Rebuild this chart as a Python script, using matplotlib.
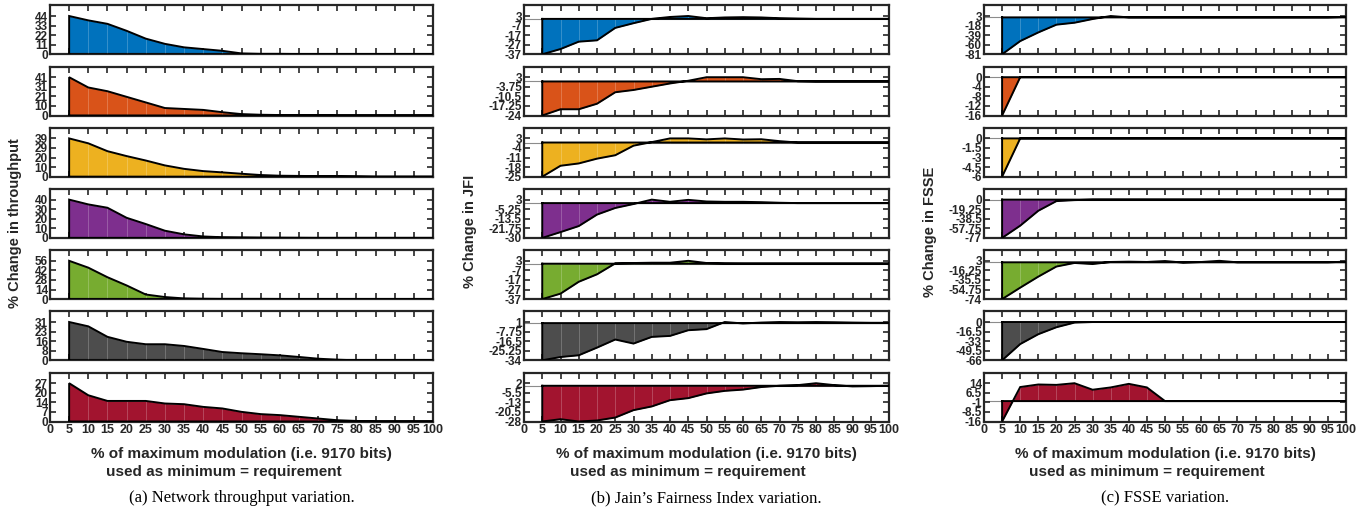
import numpy as np
import matplotlib
matplotlib.use("Agg")
import matplotlib.pyplot as plt

plt.rcParams['font.family'] = ['Liberation Sans', 'DejaVu Sans']

x_vals = list(range(5, 101, 5))
x_ticks = list(range(0, 101, 5))

colors = ['#0072BD', '#D95319', '#EDB120', '#7E2F8E', '#77AC30', '#4D4D4D', '#A2142F']

# (a) % change in throughput
thr_blue   = [44, 39, 35, 27, 18, 12, 8, 6, 4, 1, 0.5, 0.5, 0.3, 0.3, 0, 0, 0, 0, 0, 0]
thr_orange = [41, 30, 26, 20, 14, 8, 7, 6, 3.5, 1.5, 0.8, 0.5, 0.3, 0.2, 0, 0, 0, 0, 0, 0]
thr_yellow = [39, 34, 26, 21, 16.5, 11.5, 8, 5.7, 4.4, 3, 1.7, 1, 0.8, 0.6, 0.5, 0.3, 0, 0, 0, 0]
thr_purple = [40, 35, 31.5, 21, 14.5, 7.5, 3.7, 1.5, 0.7, 0.5, 0.3, 0.2, 0.1, 0, 0, 0, 0, 0, 0, 0]
thr_green  = [56, 46, 32, 20, 6.7, 3, 1, 0.5, 0.3, 0.3, 0.3, 0.2, 0.1, 0, 0, 0, 0, 0, 0, 0]
thr_gray   = [31, 27.5, 19, 15, 13, 13, 11.6, 9.2, 6.7, 5.7, 4.9, 4, 2.7, 1.3, 0.5, 0, 0, 0, 0, 0]
thr_red    = [27, 18.5, 14.5, 14.5, 14.5, 12.7, 12.2, 10.3, 9.2, 6.8, 5.2, 4.5, 3.3, 2.1, 0.9, 0.4, 0, 0, 0, 0]

# (b) % change in JFI
jfi_blue   = [-37, -31.5, -23.8, -22.4, -9.4, -4.5, 0, 2, 3, 0.7, 1.5, 1.8, 1.5, 0.7, 0.3, 0, 0, 0, 0, 0]
jfi_orange = [-24, -19.6, -19.6, -15.7, -7.6, -6, -3.7, -1.4, 0.5, 3, 3, 3, 1.6, 1.8, 0.2, 0, 0, 0, 0, 0]
jfi_yellow = [-25, -17, -15.3, -11.8, -9.3, -2.3, 0.3, 3, 3, 2.3, 3, 2.2, 2.4, 1, 0, 0, 0, 0, 0, 0]
jfi_purple = [-30, -25, -19.8, -9.9, -4.2, -0.8, 3, 1.1, 2.8, 1.4, 1.1, 1.1, 0.8, 0.3, 0, 0, 0, 0, 0, 0]
jfi_green  = [-37, -31.3, -18.9, -11.1, 0.3, 0.7, 1, 1, 3, 0.7, 0.3, 0.2, 0.2, 0.2, 0.2, 0.2, 0.2, 0.2, 0.2, 0.2]
jfi_gray   = [-34, -31, -29.4, -22.4, -15, -18.7, -12.6, -11.7, -6.5, -5.5, 1, -0.3, 0.5, 1, 0.8, 1, 0.8, 0.5, 0.3, 0.3]
jfi_red    = [-28, -26.2, -28, -27.2, -24.9, -19.1, -16.2, -11.3, -9.7, -6, -4, -3, -1, 0, 0.5, 2, 0.5, -0.5, -0.3, 0]

# (c) % change in FSSE
fsse_blue   = [-81, -52, -33, -16, -11.7, -3.6, 3, 0, 0, 0, 0, 0, 0, 0, 0, 0, 0, 0, 0, 1]
fsse_orange = [-16, 0, 0, 0, 0, 0, 0, 0, 0, 0, 0, 0, 0, 0, 0, 0, 0, 0, 0, 0]
fsse_yellow = [-6, 0, 0, 0, 0, 0, 0, 0, 0, 0, 0, 0, 0, 0, 0, 0, 0, 0, 0, 0]
fsse_purple = [-77, -52.4, -22.4, -3, -1, 0, 0, 0, 0, 0, 0, 0, 0, 0, 0, 0, 0, 0, 0, 0]
fsse_green  = [-74, -51, -28.8, -8.5, -1.3, -3.5, 0.7, 1.3, 0.7, 2.6, -0.6, 0.6, 3, 0, 0, 0, 0, 0, 0, 1.3]
fsse_gray   = [-66, -38, -21, -9, -1, 0, 0, 0, 0, 0, 0, 0, 0, 0, 0, 0, 0, 0, 0, 0]
fsse_red    = [-16, 11, 13, 12.7, 14, 8.9, 10.7, 13.5, 10.7, 0, 0, 0, 0, 0, 0, 0, 0, 0, 0, 0]

panels = [
    dict(series=[thr_blue, thr_orange, thr_yellow, thr_purple, thr_green, thr_gray, thr_red],
         ylabel='% Change in throughput', caption='(a) Network throughput variation.',
         integer_labels=True),
    dict(series=[jfi_blue, jfi_orange, jfi_yellow, jfi_purple, jfi_green, jfi_gray, jfi_red],
         ylabel='% Change in JFI', caption='(b) Jain\u2019s Fairness Index variation.',
         integer_labels=False),
    dict(series=[fsse_blue, fsse_orange, fsse_yellow, fsse_purple, fsse_green, fsse_gray, fsse_red],
         ylabel='% Change in FSSE', caption='(c) FSSE variation.',
         integer_labels=False),
]

xlabel1 = '% of maximum modulation (i.e. 9170 bits)'
xlabel2 = 'used as minimum = requirement'

W, H = 1372, 518
fig = plt.figure(figsize=(W / 100, H / 100), dpi=100)

panel_lr = [(50, 433), (524, 889), (984, 1346)]
ylabel_pos = [(15, 223), (470, 231), (930, 232)]
row_top0, row_step, row_h = 5.3, 61.2, 49.0
frame_col = '#262626'


def fmt_label(v, integer):
    if integer:
        return str(int(np.floor(v + 0.5)))
    r = round(v, 2)
    if abs(r) < 1e-9:
        r = 0.0
    return f'{r:g}'


xv = np.array(x_vals, dtype=float)
for p, (l, r) in zip(panels, panel_lr):
    for i, ser in enumerate(p['series']):
        y = np.array(ser, dtype=float)
        top = row_top0 + i * row_step
        ax = fig.add_axes([l / W, 1 - (top + row_h) / H, (r - l) / W, row_h / H])
        ymin, ymax = y.min(), y.max()
        ticks = np.linspace(ymin, ymax, 5)
        ax.set_xlim(0, 100)
        ax.set_ylim(ymin, ymax + 0.28 * (ymax - ymin))
        # baseline
        ax.axhline(0, color='#8c8c8c', lw=0.8, zorder=1)
        ax.fill_between(xv, y, 0, color=colors[i], lw=0, zorder=2)
        ax.vlines(xv[1:-1], 0, y[1:-1], color='white', lw=0.5, alpha=0.3, zorder=3)
        px = np.concatenate([[xv[0]], xv, [xv[-1]], [xv[0]]])
        py = np.concatenate([[0], y, [0], [0]])
        ax.plot(px, py, color='black', lw=1.4, zorder=4, solid_joinstyle='miter')
        ax.set_yticks(ticks)
        ax.set_yticklabels([fmt_label(t, p['integer_labels']) for t in ticks],
                           fontsize=8.5, fontweight='bold', color=frame_col)
        ax.set_xticks(x_ticks)
        if i == 6:
            ax.set_xticklabels([str(t) for t in x_ticks], fontsize=9,
                               fontweight='bold', color=frame_col)
        else:
            ax.set_xticklabels([])
        ax.tick_params(direction='in', length=4, width=1.2, color=frame_col,
                       top=True, right=True, pad=2)
        ax.tick_params(axis='y', pad=1.5)
        for s in ax.spines.values():
            s.set_color(frame_col)
            s.set_linewidth(1.6)
    cx = (l + r) / 2
    fig.text(cx / W, 1 - 454 / H, xlabel1, ha='center', va='center', fontsize=11,
             fontweight='bold', color=frame_col)
    fig.text((cx - 136) / W, 1 - 472 / H, xlabel2, ha='left', va='center', fontsize=11,
             fontweight='bold', color=frame_col)
    fig.text(cx / W, 1 - 498 / H, p['caption'], ha='center', va='center', fontsize=12,
             family='Liberation Serif', color='black')

for p, (yx, yy) in zip(panels, ylabel_pos):
    fig.text(yx / W, 1 - yy / H, p['ylabel'], ha='center', va='center', rotation=90,
             fontsize=10.5, fontweight='bold', color=frame_col)

fig.savefig('out.png', dpi=100)
